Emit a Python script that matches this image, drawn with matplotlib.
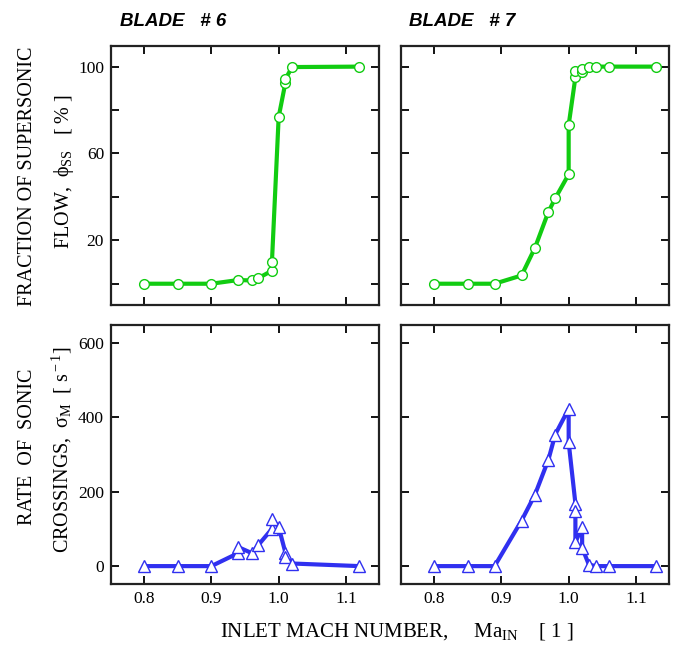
import numpy as np
import matplotlib.pyplot as plt

plt.rcParams['font.family'] = ['Liberation Serif', 'DejaVu Serif']
plt.rcParams['mathtext.fontset'] = 'custom'
plt.rcParams['mathtext.rm'] = 'Liberation Serif'
plt.rcParams['mathtext.it'] = 'Liberation Serif:italic'

# blade 6, fraction of supersonic flow
ma6_phi = [0.80, 0.85, 0.90, 0.94, 0.96, 0.97, 0.99, 0.99, 1.00, 1.01, 1.01, 1.02, 1.12]
phi6 = [0, 0, 0, 1.7, 1.5, 2.6, 6, 10, 76.8, 92.6, 94.3, 99.8, 100]
# blade 7, fraction of supersonic flow
ma7_phi = [0.80, 0.85, 0.89, 0.93, 0.95, 0.97, 0.98, 1.00, 1.00, 1.01, 1.01, 1.02, 1.02, 1.03, 1.04, 1.06, 1.13]
phi7 = [0, 0, 0, 3.8, 16.6, 33.2, 39.3, 50.4, 73.1, 95.1, 98, 97.5, 99, 100, 100, 100, 100]
# blade 6, rate of sonic crossings
ma6_sig = [0.80, 0.85, 0.90, 0.94, 0.94, 0.96, 0.97, 0.99, 0.99, 1.00, 1.01, 1.01, 1.02, 1.12]
sig6 = [0, 0, 0, 35, 51, 35, 57, 100, 126, 105, 36, 24, 7, 0]
# blade 7, rate of sonic crossings
ma7_sig = [0.80, 0.85, 0.89, 0.93, 0.95, 0.97, 0.98, 1.00, 1.00, 1.01, 1.01, 1.01, 1.02, 1.02, 1.03, 1.04, 1.06, 1.13]
sig7 = [0, 0, 0, 122, 192, 286, 353, 422, 332, 168, 149, 64, 105, 49, 4, 0, 0, 0]

green = '#11cc11'
blue = '#3030f0'

fig = plt.figure(figsize=(6.81, 6.46), dpi=100)
W, H = 681, 646
def box(x0, y0, x1, y1):
    return [x0 / W, 1 - y1 / H, (x1 - x0) / W, (y1 - y0) / H]

ax_tl = fig.add_axes(box(111, 46, 379, 305))
ax_tr = fig.add_axes(box(401, 46, 669, 305))
ax_bl = fig.add_axes(box(111, 325, 379, 584))
ax_br = fig.add_axes(box(401, 325, 669, 584))

ax_tl.plot(ma6_phi, phi6, '-o', color=green, lw=3, ms=7, mfc='white', mec=green, mew=1)
ax_tr.plot(ma7_phi, phi7, '-o', color=green, lw=3, ms=7, mfc='white', mec=green, mew=1)
ax_bl.plot(ma6_sig, sig6, '-^', color=blue, lw=3, ms=8, mfc='white', mec=blue, mew=1)
ax_br.plot(ma7_sig, sig7, '-^', color=blue, lw=3, ms=8, mfc='white', mec=blue, mew=1)

for ax in [ax_tl, ax_tr, ax_bl, ax_br]:
    ax.set_xlim(0.751, 1.149)
    ax.set_xticks([0.8, 0.9, 1.0, 1.1])
    ax.tick_params(direction='in', top=True, right=True, length=6, width=1.3,
                   labelsize=12.5, pad=5)
    for s in ax.spines.values():
        s.set_linewidth(1.6)
        s.set_color('#222222')

for ax in [ax_tl, ax_tr]:
    ax.set_ylim(-9.8, 109.5)
    ax.set_yticks([0, 20, 40, 60, 80, 100])
    ax.set_yticklabels(['', '20', '', '60', '', '100'])
    ax.set_xticklabels([])
for ax in [ax_bl, ax_br]:
    ax.set_ylim(-48, 647)
    ax.set_yticks([0, 200, 400, 600])
    ax.set_xticklabels(['0.8', '0.9', '1.0', '1.1'])
ax_tr.set_yticklabels([])
ax_br.set_yticklabels([])

fig.text(120 / W, 1 - 21 / H, 'BLADE   # 6', family='Liberation Sans', weight='bold',
         style='italic', fontsize=13.5, va='center')
fig.text(409 / W, 1 - 21 / H, 'BLADE   # 7', family='Liberation Sans', weight='bold',
         style='italic', fontsize=13.5, va='center')

lab = 14.5
fig.text(28 / W, 1 - 176 / H, 'FRACTION OF SUPERSONIC', rotation=90, fontsize=lab,
         ha='center', va='center')
fig.text(64 / W, 1 - 172 / H, 'FLOW,  ϕ$_{\\rm SS}$   [ % ]', rotation=90, fontsize=lab,
         ha='center', va='center')
fig.text(28 / W, 1 - 447 / H, 'RATE  OF  SONIC', rotation=90, fontsize=lab,
         ha='center', va='center')
fig.text(62 / W, 1 - 450 / H, 'CROSSINGS,  σ$_{\\rm M}$  [ s$^{\\rm -1}$]', rotation=90,
         fontsize=lab, ha='center', va='center')
fig.text(397 / W, 1 - 632 / H, 'INLET MACH NUMBER,     Ma$_{\\rm IN}$    [ 1 ]', fontsize=lab + 0.5,
         ha='center', va='center')

fig.savefig('out.png', dpi=100)
